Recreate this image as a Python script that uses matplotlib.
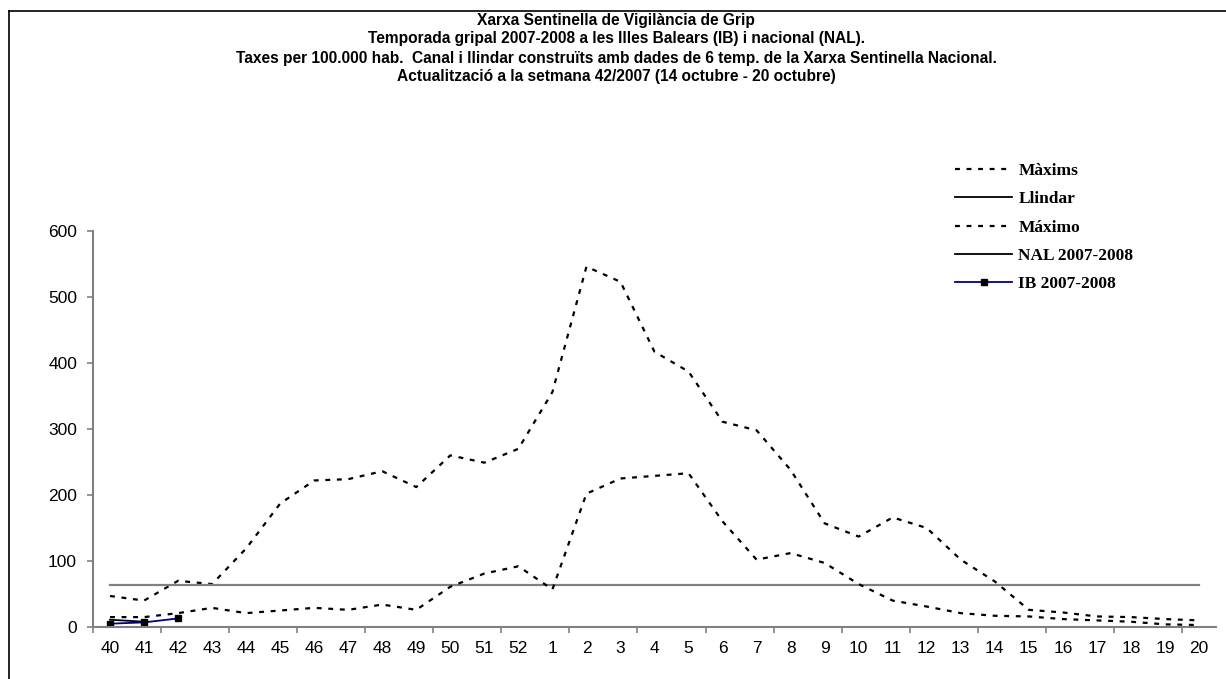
import matplotlib
matplotlib.use("Agg")
import matplotlib.pyplot as plt
from matplotlib.lines import Line2D
import numpy as np

weeks = ["40", "41", "42", "43", "44", "45", "46", "47", "48", "49", "50", "51", "52",
         "1", "2", "3", "4", "5", "6", "7", "8", "9", "10", "11", "12", "13", "14",
         "15", "16", "17", "18", "19", "20"]

maxims = [47, 40, 70, 65, 119, 187, 222, 224, 236, 212, 260, 249, 270,
          356, 546, 523, 417, 387, 311, 298, 238, 157, 137, 166, 150, 102, 69,
          26, 22, 16, 15, 12, 10]

maximo = [15, 15, 21, 29, 21, 25, 29, 26, 34, 26, 61, 81, 92,
          57, 202, 225, 229, 233, 160, 102, 112, 97, 65, 40, 31, 21, 17,
          16, 12, 10, 8, 4, 3]

llindar_value = 64
llindar = [llindar_value] * len(weeks)

nal = [11, 8]
ib = [5, 7, 13]

title_lines = [
    "Xarxa Sentinella de Vigilància de Grip",
    "Temporada gripal 2007-2008 a les Illes Balears (IB) i nacional (NAL).",
    "Taxes per 100.000 hab.  Canal i llindar construïts amb dades de 6 temp. de la Xarxa Sentinella Nacional.",
    "Actualització a la setmana 42/2007 (14 octubre - 20 octubre)",
]

W, H = 1226, 679
fig = plt.figure(figsize=(W / 100, H / 100), dpi=100)
fig.patch.set_facecolor("white")

# outer chart border (left and top visible)
fig.add_artist(Line2D([9 / W, 9 / W], [0, 1 - 11 / H], color="black", lw=1.2,
                      transform=fig.transFigure))
fig.add_artist(Line2D([9 / W, 1.0], [1 - 11 / H, 1 - 11 / H], color="black", lw=1.2,
                      transform=fig.transFigure))

left, right = 93 / W, 1216 / W
bottom, top = 1 - 627 / H, 1 - 231 / H
ax = fig.add_axes([left, bottom, right - left, top - bottom])

x = np.arange(len(weeks))
dash = (0, (2.2, 3))
ax.plot(x, maxims, color="black", lw=1.6, linestyle=dash, label="Màxims")
ax.plot(x, llindar, color="#808080", lw=1.6, label="Llindar")
ax.plot(x, maximo, color="black", lw=1.6, linestyle=dash, label="Máximo")
ax.plot(x[:len(nal)], nal, color="black", lw=1.3, label="NAL 2007-2008")
ax.plot(x[:len(ib)], ib, color="#000080", lw=1.3, marker="s", markersize=5,
        markerfacecolor="black", markeredgecolor="black", label="IB 2007-2008")

ax.set_xlim(-0.5, len(weeks) - 0.5)
ax.set_ylim(0, 600)

for s in ["top", "right"]:
    ax.spines[s].set_visible(False)
for s in ["left", "bottom"]:
    ax.spines[s].set_color("#808080")
    ax.spines[s].set_linewidth(1.5)

ax.set_yticks(np.arange(0, 601, 100))
ax.tick_params(axis="y", direction="out", length=4.5, width=1.2, color="#808080",
               labelsize=12.5, pad=7)
ax.set_xticks(np.arange(-0.5, len(weeks), 2))
ax.set_xticklabels([])
ax.set_xticks(x, minor=True)
ax.set_xticklabels(weeks, minor=True)
ax.tick_params(axis="x", which="major", direction="out", length=4.5, width=1.2,
               color="#808080")
ax.tick_params(axis="x", which="minor", length=0, labelsize=12.5, pad=10)
for lab in ax.get_xticklabels(minor=True) + ax.get_yticklabels():
    lab.set_fontfamily("Liberation Sans")

# titles
baselines = [24.5, 43.5, 62.5, 81.5]
for t, yb in zip(title_lines, baselines):
    fig.text(616 / W, 1 - yb / H, t, ha="center", va="baseline",
             fontsize=11.2, fontweight="bold", family="Liberation Sans")

# legend
handles, labels = ax.get_legend_handles_labels()
leg = fig.legend(handles, labels, loc="upper left",
                 bbox_to_anchor=(955 / W, 1 - 163 / H), frameon=False,
                 prop={"family": "Liberation Serif", "weight": "bold", "size": 12.5},
                 handlelength=3.3, handletextpad=0.35, labelspacing=0.7,
                 borderpad=0, borderaxespad=0)
for h in leg.legend_handles:
    if h.get_label() == "Llindar":
        h.set_color("black")
        h.set_linewidth(1.3)

fig.savefig("out.png", dpi=100)
